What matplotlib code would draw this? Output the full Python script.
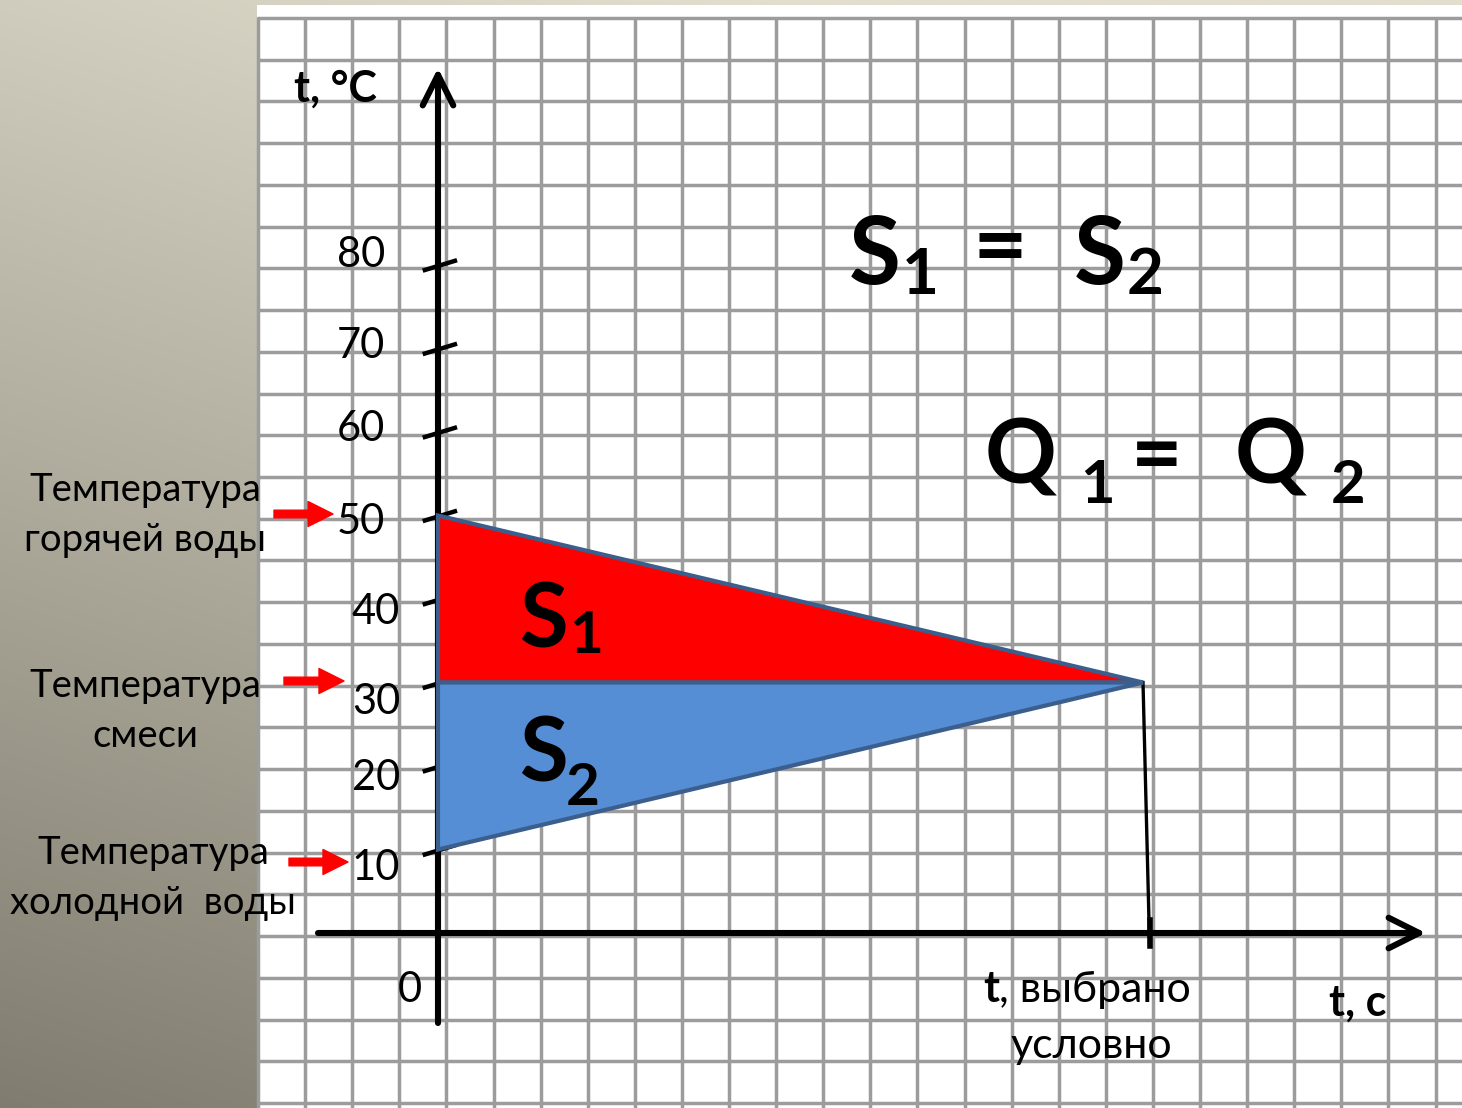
import matplotlib
matplotlib.use("Agg")
import matplotlib.pyplot as plt
import numpy as np
from matplotlib.patches import Polygon, Rectangle
from matplotlib.transforms import Affine2D

# temperatures, degC
t_hot = 50
t_cold = 10
t_mix = 30
# time of mixing is arbitrary ("выбрано условно")
t_end = 15
tick_values = [10, 20, 30, 40, 50, 60, 70, 80]
tick_labels = ["10", "20", "30", "40", "50", "60", "70", "80"]
side_labels = ["Температура\nгорячей воды", "Температура\nсмеси", "Температура\nхолодной  воды"]
side_temps = [t_hot, t_mix, t_cold]

W, H = 1462, 1108
FONT = ["Lato", "Noto Sans", "DejaVu Sans"]
plt.rcParams["font.family"] = FONT

fig = plt.figure(figsize=(W / 100, H / 100), dpi=100)

# pixel transform for placing decorations / text
pxt = Affine2D().scale(1.0 / W, -1.0 / H).translate(0, 1) + fig.transFigure

# background: gradient + squared paper
bg = fig.add_axes([0, 0, 1, 1], zorder=0)
bg.set_xlim(0, W)
bg.set_ylim(H, 0)
bg.axis("off")
yy, xx = np.mgrid[0:H:4, 0:W:4]
s = np.clip((1 - yy / H) * 0.82 + (xx / W) * 0.35, 0, 1)
light = np.array([226, 222, 206]) / 255
dark = np.array([128, 125, 112]) / 255
img = dark + (light - dark) * s[..., None]
bg.imshow(img, extent=(0, W, H, 0), aspect="auto", interpolation="bilinear")
bg.add_patch(Rectangle((257, 5), W - 257, H - 5, facecolor="white", edgecolor="none"))
for k in range(26):
    x = 258 + 47.1 * k
    bg.plot([x, x], [17, H], color="#9c9c9c", lw=2.5, solid_capstyle="butt")
for j in range(27):
    y = 18 + 41.73 * j
    bg.plot([257, W], [y, y], color="#9c9c9c", lw=2.5, solid_capstyle="butt")

# main axes in data units: t (arbitrary units) and temperature
ax = fig.add_axes([0, 0, 1, 1], zorder=1)
ax.patch.set_alpha(0)
x0, kx = 438, 47.0
y0, ky = 933, 8.35
ax.set_xlim(-x0 / kx, (W - x0) / kx)
ax.set_ylim((y0 - H) / ky, y0 / ky)
ax.axis("off")

# axes with open arrow heads
arrow = dict(arrowstyle="->,head_length=1.1,head_width=0.55", lw=4.4, color="black",
             mutation_scale=20, shrinkA=0, shrinkB=0)
ax.annotate("", xy=(0, (y0 - 68) / ky), xytext=(0, (y0 - 1023) / ky), arrowprops=arrow, zorder=2)
ax.annotate("", xy=((1426 - x0) / kx, 0), xytext=((318 - x0) / kx, 0), arrowprops=arrow, zorder=2)

# slanted ticks on temperature axis
for v in tick_values:
    ax.plot([-0.28, 0.36], [v - 0.6, v + 0.5], color="black", lw=3.2, zorder=2)

# triangles S1 and S2
ax.add_patch(Polygon([(0, t_hot), (t_end, t_mix), (0, t_mix)], closed=True,
                     facecolor="#ff0000", edgecolor="#3b5e8c", lw=3.0, zorder=3))
ax.add_patch(Polygon([(0, t_mix), (t_end, t_mix), (0, t_cold)], closed=True,
                     facecolor="#558ed5", edgecolor="#3b5e8c", lw=3.0, zorder=3))

# drop line from mixing point to time axis
ax.plot([t_end, t_end + 0.14], [t_mix, -1.4], color="black", lw=2.4, zorder=2)
ax.plot([t_end + 0.14, t_end + 0.14], [1.5, -1.5], color="black", lw=4.0, zorder=2)

# tick labels
lab_dy = [-18, -12, -20, -13, -6, 3, 3, 10]
lab_right = [400, 400, 400, 400, 385, 385, 385, 385]
for v, lab, dy, xr in zip(tick_values, tick_labels, lab_dy, lab_right):
    yp = y0 - v * ky - dy
    ax.text(xr, yp, lab, transform=pxt, ha="right", va="center", fontsize=30, color="black")
ax.text(410, 990, "0", transform=pxt, ha="center", va="center", fontsize=30, color="black")

# axis titles
ax.text(335, 89, "t, °C", transform=pxt, ha="center", va="center", fontsize=31,
        fontweight="bold", color="black")
ax.text(1358, 1003, "t, с", transform=pxt, ha="center", va="center", fontsize=31,
        fontweight="bold", color="black")
tb = ax.text(983, 1002, "t", transform=pxt, ha="left", va="baseline", fontsize=31,
             fontweight="bold", color="black")
ax.annotate(", выбрано", xy=(1, 0), xycoords=tb, ha="left", va="bottom", fontsize=31, color="black")
ax.text(1091, 1046, "условно", transform=pxt, ha="center", va="center", fontsize=31, color="black")

# side labels with red arrows
lab_pos = [(145, 515), (145, 711), (153, 878)]
arr_pos = [(274, 333, 514), (284, 344, 681), (289, 348, 862)]
for txt, (lx, ly), (ax0, ax1, ay) in zip(side_labels, lab_pos, arr_pos):
    ax.text(lx, ly, txt, transform=pxt, ha="center", va="center", fontsize=27.5,
            color="black", linespacing=1.5)
    ax.annotate("", xy=(ax1, ay), xytext=(ax0, ay), xycoords=pxt, textcoords=pxt,
                arrowprops=dict(arrowstyle="simple,head_length=18,head_width=18,tail_width=5.5",
                                color="#ff0000", mutation_scale=1, shrinkA=0, shrinkB=0))

# S1, S2 inside the triangles
big = dict(transform=pxt, ha="left", va="baseline", fontweight="bold", color="black")
ax.text(520, 647, "S", fontsize=64, **big)
ax.text(569, 653, "1", fontsize=42, **big)
ax.text(520, 782, "S", fontsize=64, **big)
ax.text(566, 805, "2", fontsize=42, **big)

# S1 = S2
ax.text(849, 284, "S", fontsize=68, **big)
ax.text(902, 294, "1", fontsize=46, **big)
ax.text(1000, 250, "=", transform=pxt, ha="center", va="center", fontsize=68,
        fontweight="bold", color="black")
ax.text(1074, 284, "S", fontsize=68, **big)
ax.text(1127, 294, "2", fontsize=46, **big)

# Q1 = Q2
ax.text(985, 483, "Q", fontsize=64, **big)
ax.text(1080, 503, "1", fontsize=43, **big)
ax.text(1157, 458, "=", transform=pxt, ha="center", va="center", fontsize=64,
        fontweight="bold", color="black")
ax.text(1235, 483, "Q", fontsize=64, **big)
ax.text(1331, 503, "2", fontsize=43, **big)

fig.savefig("out.png", dpi=100)
